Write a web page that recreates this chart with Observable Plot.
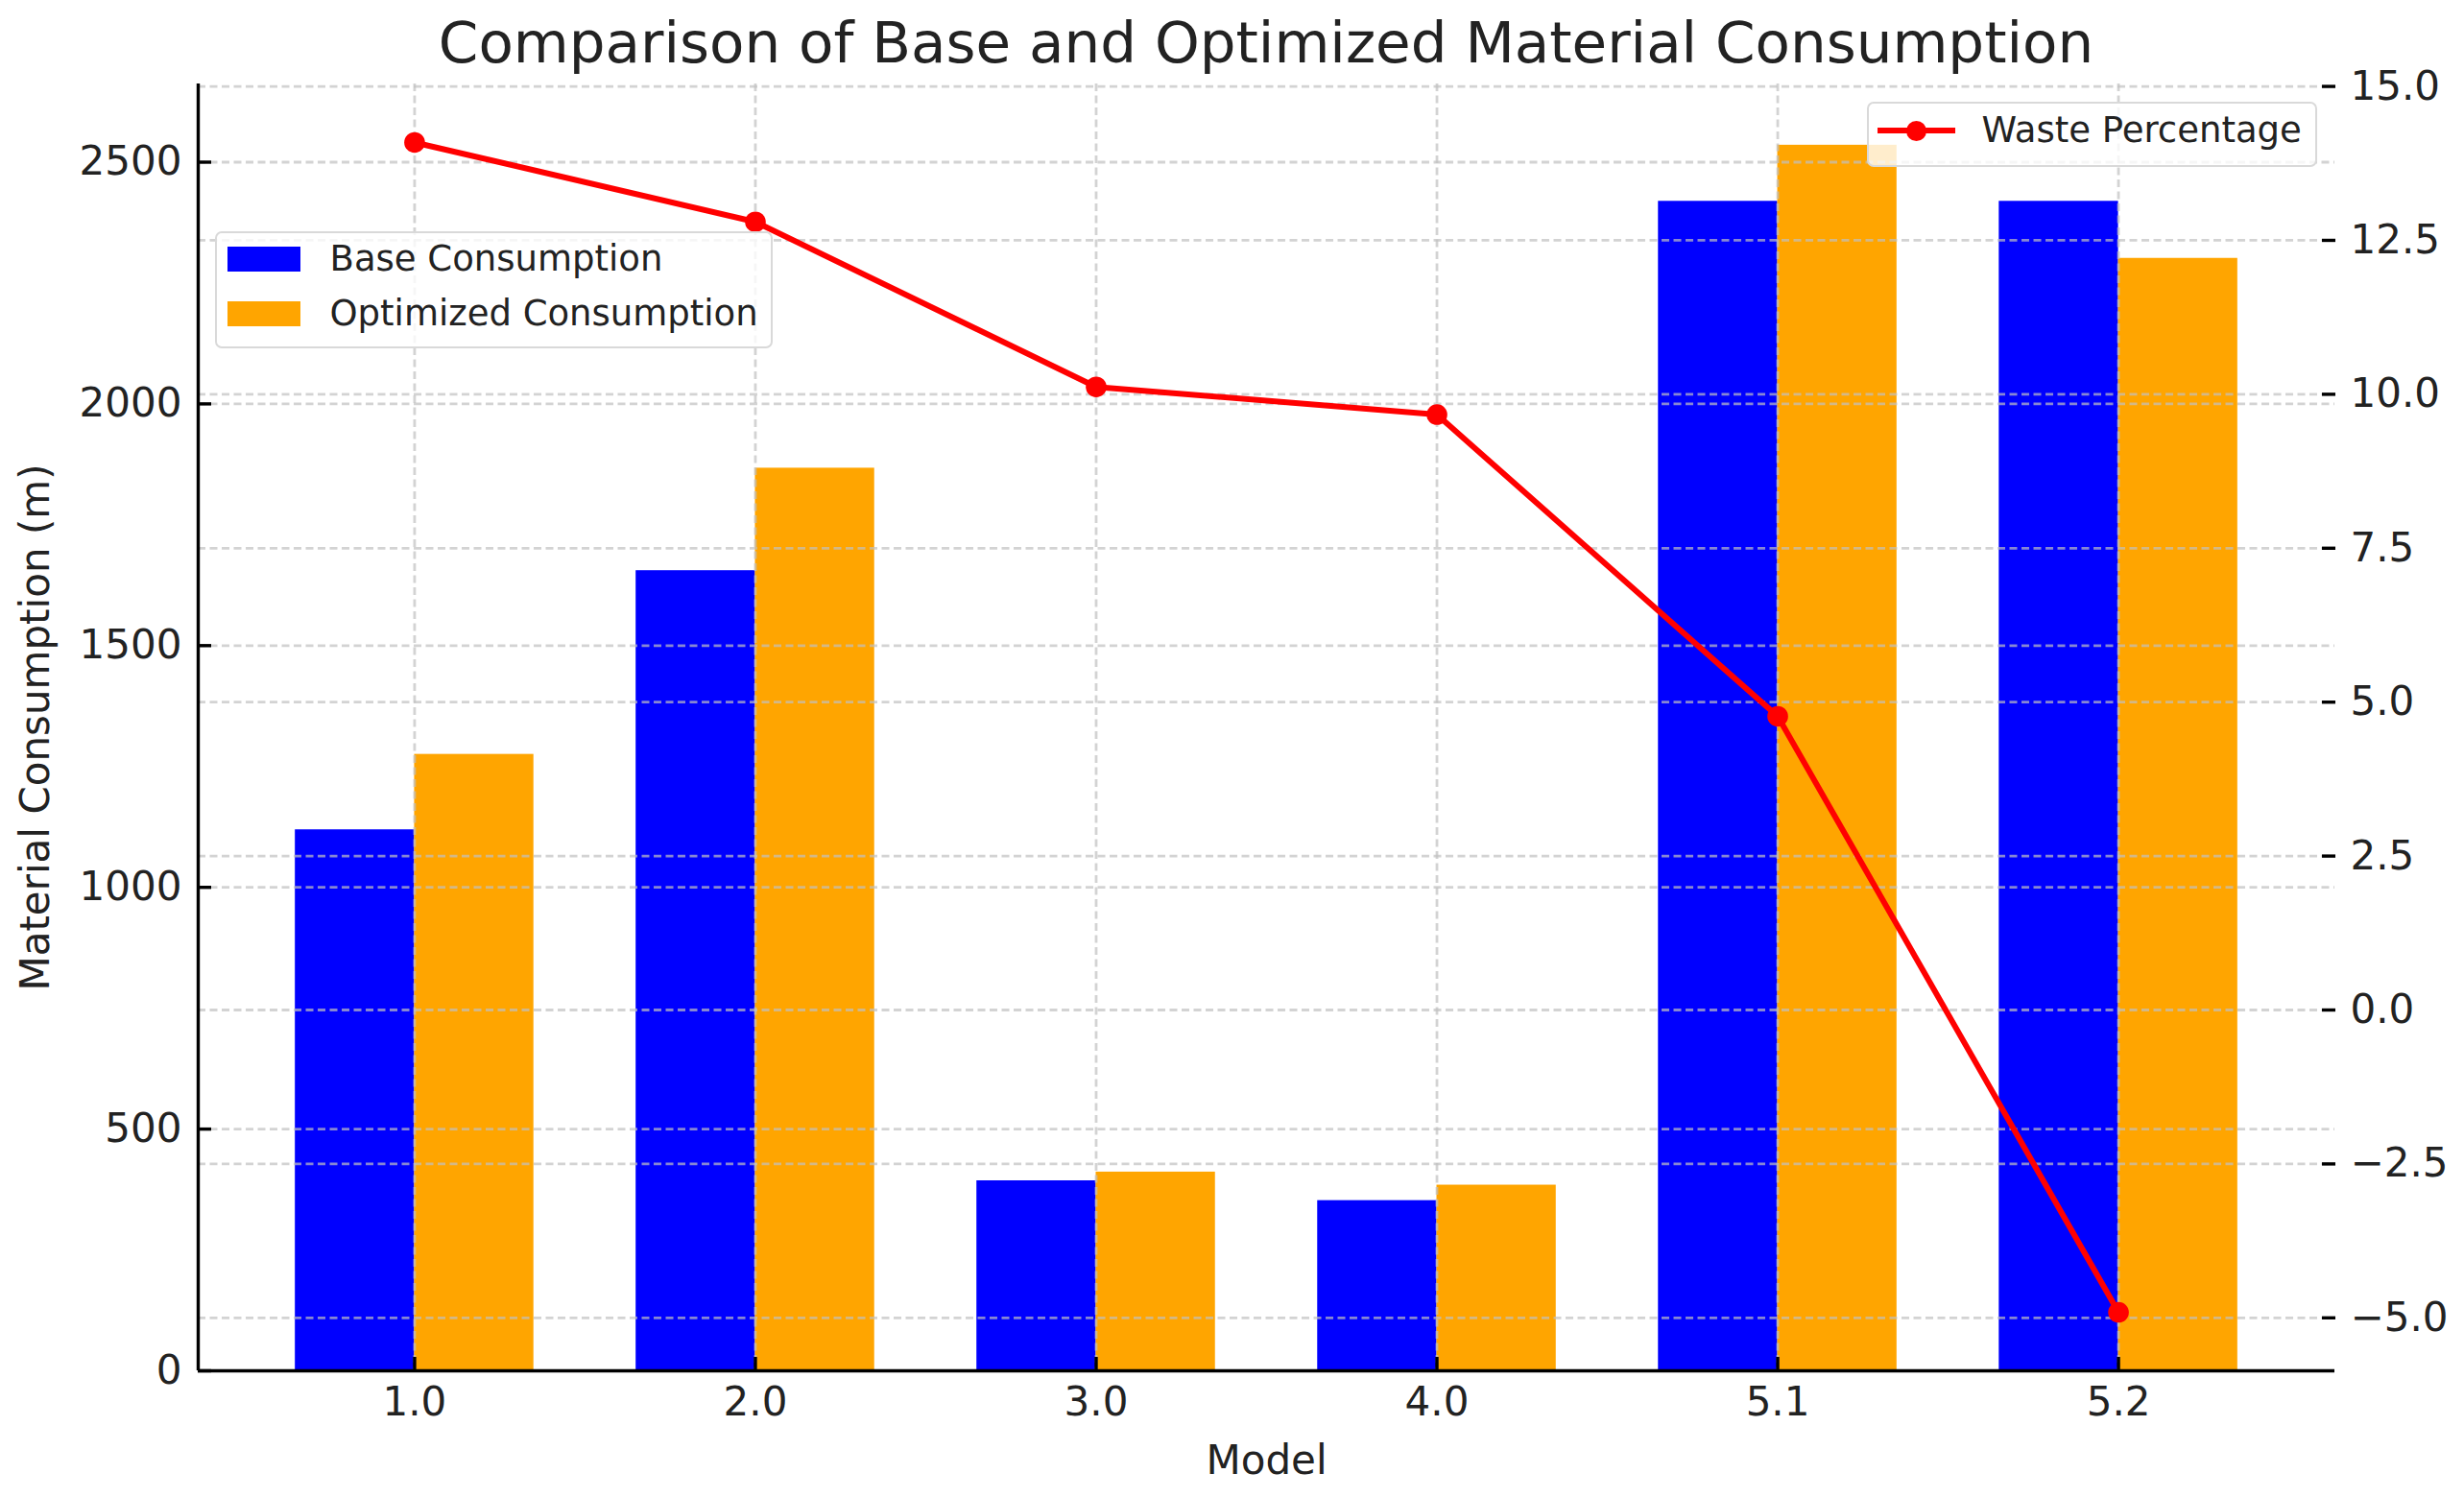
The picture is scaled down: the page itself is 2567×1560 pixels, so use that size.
<!DOCTYPE html>
<html>
<head>
<meta charset="utf-8">
<script src="https://cdn.jsdelivr.net/npm/d3@7"></script>
<script src="https://cdn.jsdelivr.net/npm/@observablehq/plot@0.6"></script>
<style>
html, body { margin: 0; padding: 0; background: #fff; overflow: hidden; }
#page { position: relative; width: 2567px; height: 1560px; font-family: "DejaVu Sans", sans-serif; color: #222; background: #fff; }
#title { box-sizing: border-box; height: 76px; padding: 15px 135px 0 206px; font-size: 59.5px; line-height: 59px; text-align: center; white-space: nowrap; }
#chart svg { display: block; }
.legend { position: absolute; box-sizing: border-box; background: rgba(255,255,255,0.8); border: 2.5px solid #d9d9d9; border-radius: 7px; font-size: 37px; }
.legend .txt { position: absolute; line-height: 42px; white-space: nowrap; }
.legend .sw { position: absolute; width: 76px; height: 26px; }
</style>
</head>
<body>
<div id="page">
  <div id="title">Comparison of Base and Optimized Material Consumption</div>
  <div id="chart"></div>
  <div class="legend" id="legL" style="left:224px; top:241px; width:581px; height:122px;">
    <div class="sw" style="left:11px; top:13.5px; background:#0000ff;"></div>
    <div class="txt" style="left:117.5px; top:6px;">Base Consumption</div>
    <div class="sw" style="left:11px; top:70.5px; background:#ffa500;"></div>
    <div class="txt" style="left:117.5px; top:62.5px;">Optimized Consumption</div>
  </div>
  <div class="legend" id="legR" style="left:1945px; top:106px; width:469px; height:68px;">
    <div style="position:absolute; left:8.5px; top:25.2px; width:81.5px; height:6px; background:#ff0000;"></div>
    <div style="position:absolute; left:39px; top:17.7px; width:21px; height:21px; border-radius:50%; background:#ff0000;"></div>
    <div class="txt" style="left:117.5px; top:7.4px;">Waste Percentage</div>
  </div>
</div>
<script>
const models = ["1.0", "2.0", "3.0", "4.0", "5.1", "5.2"];
const baseConsumption = [1119, 1655, 393, 352, 2419, 2419];
const optimizedConsumption = [1275, 1867, 411, 384, 2535, 2301];
const wastePercentage = [14.09, 12.80, 10.12, 9.67, 4.77, -4.91];
const leftTicks = [0, 500, 1000, 1500, 2000, 2500];
const rightTicks = [-5, -2.5, 0, 2.5, 5, 7.5, 10, 12.5, 15];

const n = models.length;
const half = 0.35;
const xPad = 0.05 * (n - 1 + 2 * half);
const xDomain = [-half - xPad, n - 1 + half + xPad];
const lMax = d3.max([...baseConsumption, ...optimizedConsumption]);
const yDomain = [0, lMax * 1.05];
const wMin = d3.min(wastePercentage), wMax = d3.max(wastePercentage);
const rDomain = [wMin - 0.05 * (wMax - wMin), wMax + 0.05 * (wMax - wMin)];
const toLeft = w => (w - rDomain[0]) / (rDomain[1] - rDomain[0]) * (yDomain[1] - yDomain[0]) + yDomain[0];
const fromLeft = v => (v - yDomain[0]) / (yDomain[1] - yDomain[0]) * (rDomain[1] - rDomain[0]) + rDomain[0];
const fmt1 = d3.format(".1f");

const rows = models.map((m, i) => ({
  i, model: m, base: baseConsumption[i], opt: optimizedConsumption[i], waste: wastePercentage[i]
}));

const gridStyle = { stroke: "#c0c0c0", strokeOpacity: 0.7, strokeWidth: 2.8, strokeDasharray: "8,4.5" };
const tickStyle = { stroke: "#000", strokeWidth: 3.4, fill: "none", label: null };

const plot = Plot.plot({
  width: 2567,
  height: 1484,
  marginTop: 11,
  marginBottom: 132,
  marginLeft: 206,
  marginRight: 135,
  x: { type: "linear", domain: xDomain },
  y: { type: "linear", domain: yDomain },
  style: { fontFamily: "DejaVu Sans", fontSize: "42px", color: "#222", background: "transparent", overflow: "visible" },
  marks: [
    Plot.rect(rows, { x1: d => d.i - half, x2: "i", y1: 0, y2: "base", fill: "#0000ff" }),
    Plot.rect(rows, { x1: "i", x2: d => d.i + half, y1: 0, y2: "opt", fill: "#ffa500" }),
    Plot.gridX(d3.range(n), gridStyle),
    Plot.gridY(leftTicks, gridStyle),
    Plot.gridY(rightTicks.map(toLeft), gridStyle),
    Plot.ruleY([yDomain[0]], { stroke: "#000", strokeWidth: 3.4 }),
    Plot.ruleX([xDomain[0]], { stroke: "#000", strokeWidth: 3.4 }),
    Plot.line(rows, { x: "i", y: d => toLeft(d.waste), stroke: "#ff0000", strokeWidth: 6 }),
    Plot.dot(rows, { x: "i", y: d => toLeft(d.waste), r: 10.8, fill: "#ff0000" }),
    Plot.axisX(d3.range(n), {
      anchor: "bottom", tickSize: 0, tickPadding: 17, tickFormat: i => models[i],
      label: "Model", labelAnchor: "center", labelOffset: 107, labelArrow: "none"
    }),
    Plot.axisX(d3.range(n), { anchor: "bottom", tickSize: 14, dy: -14, ...tickStyle }),
    Plot.axisY(leftTicks, {
      anchor: "left", tickSize: 0, tickPadding: 17, tickFormat: d => String(d),
      label: "Material Consumption (m)", labelAnchor: "center", labelOffset: 185, labelArrow: "none"
    }),
    Plot.axisY(leftTicks, { anchor: "left", tickSize: 14, dx: 14, ...tickStyle }),
    Plot.axisY(rightTicks.map(toLeft), {
      anchor: "right", tickSize: 0, tickPadding: 16,
      tickFormat: v => fmt1(Math.round(fromLeft(v) * 10) / 10), label: null
    }),
    Plot.axisY(rightTicks.map(toLeft), { anchor: "right", tickSize: 14, dx: -14, ...tickStyle })
  ]
});
document.getElementById("chart").appendChild(plot);
</script>
</body>
</html>
